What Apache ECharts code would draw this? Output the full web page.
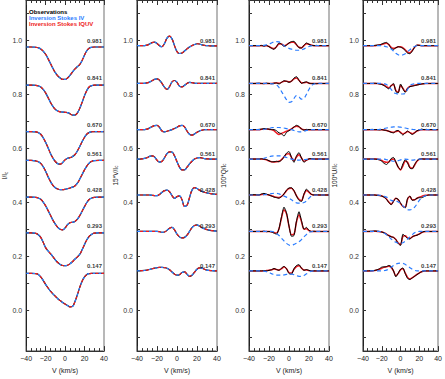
<!DOCTYPE html>
<html>
<head>
<meta charset="utf-8">
<script src="https://cdn.jsdelivr.net/npm/echarts@6/dist/echarts.min.js"></script>
<style>
html, body { margin: 0; padding: 0; background: #fff; }
#chart { width: 445px; height: 379px; }
</style>
</head>
<body>
<div id="chart"></div>
<script>
// velocity grid (km/s)
var velocity = [-40, -35, -30, -27.5, -25, -22.5, -20, -17.5, -15, -12.5, -10, -7.5, -5, -2.5, 0,
    2.5, 5, 7.5, 10, 12.5, 15, 17.5, 20, 22.5, 25, 27.5, 30, 35, 40];
var phases = ['0.981', '0.841', '0.670', '0.561', '0.428', '0.293', '0.147'];
var offsets = [0.981, 0.841, 0.670, 0.561, 0.428, 0.293, 0.147];
var yLabelTicks = [0.0, 0.2, 0.4, 0.6, 0.8, 1.0];
var yTicks = [-0.1, 0.0, 0.1, 0.2, 0.3, 0.4, 0.5, 0.6, 0.7, 0.8, 0.9, 1.0, 1.1];

// Stokes I (relative to offset)
var i0981 = [-0.005,-0.005,-0.006,-0.008,-0.012,-0.020,-0.032,-0.048,-0.066,-0.084,-0.100,-0.112,-0.120,-0.125,-0.125,-0.120,-0.110,-0.098,-0.087,-0.078,-0.070,-0.055,-0.035,-0.018,-0.009,-0.006,-0.005,-0.005,-0.005];
var i0841 = [-0.006,-0.006,-0.007,-0.009,-0.013,-0.022,-0.035,-0.052,-0.070,-0.085,-0.096,-0.102,-0.105,-0.106,-0.107,-0.108,-0.112,-0.117,-0.117,-0.110,-0.093,-0.070,-0.045,-0.025,-0.012,-0.008,-0.006,-0.006,-0.006];
var i0670 = [-0.007,-0.007,-0.008,-0.011,-0.017,-0.030,-0.047,-0.067,-0.088,-0.105,-0.118,-0.126,-0.128,-0.122,-0.112,-0.106,-0.104,-0.100,-0.093,-0.080,-0.063,-0.045,-0.028,-0.016,-0.010,-0.008,-0.007,-0.007,-0.007];
var i0561 = [-0.005,-0.005,-0.007,-0.010,-0.016,-0.028,-0.045,-0.065,-0.083,-0.097,-0.106,-0.111,-0.113,-0.113,-0.112,-0.110,-0.107,-0.104,-0.100,-0.090,-0.075,-0.057,-0.040,-0.025,-0.014,-0.008,-0.006,-0.005,-0.005];
var i0428 = [-0.008,-0.008,-0.009,-0.011,-0.016,-0.026,-0.040,-0.057,-0.075,-0.093,-0.108,-0.120,-0.127,-0.129,-0.122,-0.110,-0.103,-0.101,-0.098,-0.090,-0.077,-0.060,-0.043,-0.027,-0.016,-0.011,-0.009,-0.008,-0.008];
var i0293 = [-0.005,-0.005,-0.007,-0.012,-0.022,-0.040,-0.060,-0.072,-0.082,-0.093,-0.105,-0.115,-0.122,-0.126,-0.127,-0.125,-0.120,-0.112,-0.103,-0.095,-0.085,-0.068,-0.048,-0.030,-0.017,-0.010,-0.006,-0.005,-0.005];
var i0147 = [-0.009,-0.009,-0.010,-0.013,-0.022,-0.035,-0.050,-0.063,-0.075,-0.085,-0.094,-0.103,-0.110,-0.117,-0.123,-0.128,-0.133,-0.132,-0.115,-0.090,-0.062,-0.038,-0.022,-0.013,-0.010,-0.009,-0.009,-0.009,-0.009];

// 15*V/Ic
var v0981 = [0,0,0.002,0.006,0.011,0.013,0.008,0.000,-0.004,0.008,0.028,0.035,0.025,0.000,-0.022,-0.029,-0.027,-0.020,-0.012,-0.005,0.000,0.004,0.007,0.006,0.003,0.001,0,-0.001,-0.001];
var v0841 = [0,0,0.002,0.005,0.010,0.015,0.017,0.012,0.000,-0.014,-0.022,-0.012,0.006,0.011,0.004,-0.010,-0.013,-0.007,0.000,0.004,0.003,0.001,0,0,0,0,0,0,0];
var v0670 = [0,0,0.002,0.006,0.011,0.015,0.016,0.008,-0.005,-0.008,-0.006,-0.003,0.000,0.004,0.009,0.014,0.016,0.010,-0.005,-0.017,-0.020,-0.016,-0.010,-0.005,-0.002,0,0,0,0];
var v0561 = [0,0.001,0.005,0.010,0.012,0.008,-0.004,-0.011,-0.008,0.005,0.020,0.027,0.026,0.012,-0.010,-0.030,-0.040,-0.040,-0.030,-0.018,-0.008,0.000,0.004,0.005,0.004,0.002,0.001,0,0];
var v0428 = [0,0,0,0,-0.001,-0.002,-0.002,0.002,0.010,0.016,0.018,0.012,-0.002,-0.012,-0.006,-0.003,-0.018,-0.042,-0.038,-0.010,0.018,0.027,0.024,0.018,0.013,0.010,0.008,0.004,0.002];
var v0293 = [0,0,0,0,0,0,0,-0.001,-0.003,-0.002,0.004,0.012,0.015,0.006,-0.010,-0.020,-0.024,-0.022,-0.014,0.000,0.014,0.022,0.024,0.020,0.014,0.010,0.007,0.003,0.001];
var v0147 = [0,0.001,0.003,0.005,0.008,0.010,0.012,0.013,0.013,0.012,0.010,0.004,-0.004,-0.012,-0.016,-0.014,-0.006,-0.004,-0.012,-0.020,-0.016,-0.005,0.006,0.011,0.010,0.006,0.003,0.001,0];

// 100*Q/Ic : observations, IQUV inversion, IV inversion
var qObs0981 = [0,0,0,0.001,-0.002,0.001,-0.004,-0.010,-0.014,-0.003,0.010,0.006,-0.003,0.002,0.010,0.015,0.016,0.004,-0.008,-0.009,0.002,0.010,0.005,0.001,0,0.001,0,0,0];
var qFit0981 = [0,0,0,0,0,0,-0.003,-0.008,-0.011,-0.004,0.006,0.006,0.000,0.003,0.009,0.013,0.012,0.003,-0.006,-0.008,0.000,0.007,0.005,0.002,0,0,0,0,0];
var qIv0981 = [0,0,0,0,0.001,0.003,0.006,0.010,0.014,0.015,0.014,0.008,0.000,-0.006,-0.010,-0.013,-0.015,-0.017,-0.017,-0.016,-0.012,-0.007,-0.003,-0.001,0,0,0,0,0];
var qObs0841 = [0,0,0.001,0,-0.001,0.001,0,-0.001,0.001,0.002,-0.002,0.004,0.010,0.008,0.004,0.008,0.020,0.025,0.012,0.000,0.004,0.006,0.001,0,0,-0.001,0,0,0];
var qFit0841 = [0,0,0,0,0,0,0,0,0.001,0.002,0.001,0.004,0.008,0.008,0.006,0.009,0.017,0.020,0.012,0.003,0.003,0.004,0.001,0,0,0,0,0,0];
var qIv0841 = [0,0,0,0,0,0,0,-0.001,-0.002,-0.005,-0.015,-0.030,-0.045,-0.060,-0.070,-0.068,-0.055,-0.045,-0.050,-0.058,-0.055,-0.040,-0.022,-0.008,-0.002,0,0,0,0];
var qObs0670 = [0,0,0.001,0.002,0.004,0.003,0.002,0.000,0.000,-0.004,-0.012,-0.015,-0.024,-0.010,-0.004,0.002,0.010,0.016,0.012,0.002,-0.002,0.001,0,0,0,0,0,0,0];
var qFit0670 = [0,0,0,0.001,0.002,0.002,0.001,0.000,-0.004,-0.012,-0.018,-0.014,-0.010,-0.006,-0.002,0.003,0.009,0.013,0.010,0.003,0.000,0,0,0,0,0,0,0,0];
var qIv0670 = [0,0,0,0,0.001,0.003,0.005,0.007,0.008,0.008,0.008,0.007,0.006,0.004,0.002,0.000,-0.003,-0.006,-0.008,-0.008,-0.006,-0.003,-0.001,0,0,0,0,0,0];
var qObs0561 = [0,0,0,0.001,0,-0.002,-0.006,-0.010,-0.010,-0.008,-0.010,-0.004,0.008,0.022,0.028,0.006,-0.012,0.012,0.024,0.004,-0.012,-0.004,0.001,0.002,0,0,0,0,0];
var qFit0561 = [0,0,0,0,-0.001,-0.003,-0.007,-0.010,-0.011,-0.010,-0.008,-0.002,0.008,0.018,0.020,0.006,-0.006,0.008,0.016,0.004,-0.008,-0.004,0,0,0,0,0,0,0];
var qIv0561 = [0,0,0,0.001,0.003,0.006,0.009,0.011,0.012,0.012,0.012,0.011,0.009,0.006,0.003,0.000,-0.002,-0.004,-0.004,-0.003,-0.002,-0.001,0,0,0,0,0,0,0];
var qObs0428 = [0,0.001,0,0.004,0.006,0.003,0,-0.004,-0.008,-0.010,-0.012,-0.006,0.004,0.018,0.026,0.027,0.016,-0.004,-0.020,-0.024,0.004,0.022,0.012,0.002,0,0.001,0,0,0];
var qFit0428 = [0,0,0,0.002,0.003,0.002,0,-0.003,-0.006,-0.008,-0.009,-0.005,0.004,0.016,0.024,0.025,0.015,-0.003,-0.016,-0.020,0.002,0.017,0.010,0.002,0,0,0,0,0];
var qIv0428 = [0,0,0,0,0.001,0.002,0.004,0.005,0.006,0.006,0.004,0.000,-0.004,-0.008,-0.012,-0.018,-0.024,-0.029,-0.030,-0.030,-0.028,-0.022,-0.012,-0.004,-0.001,0,0,0,0];
var qObs0293 = [0,0,0,0,0.001,-0.001,0,-0.002,-0.006,-0.010,0.010,0.055,0.090,0.070,0.020,-0.018,-0.015,0.040,0.073,0.040,0.008,0.015,0.004,0.000,0.001,0,0,0,0];
var qFit0293 = [0,0,0,0,0,0,0,-0.001,-0.004,-0.006,0.010,0.050,0.080,0.065,0.020,-0.012,-0.010,0.035,0.062,0.036,0.008,0.010,0.003,0,0,0,0,0,0];
var qIv0293 = [0,0,0,0,0,0,0,0,-0.002,-0.008,-0.015,-0.025,-0.035,-0.044,-0.050,-0.052,-0.048,-0.044,-0.038,-0.030,-0.020,-0.011,-0.004,-0.001,0,0,0,0,0];
var qObs0147 = [0,0,0,0,0.001,0,0.002,0.004,0.009,0.005,0.002,0.010,0.017,0.008,-0.010,-0.012,0.008,0.020,0.023,0.010,0.002,0.005,0.002,0,0,0,0,0,0];
var qFit0147 = [0,0,0,0,0,0.001,0.002,0.004,0.007,0.005,0.003,0.008,0.014,0.008,-0.006,-0.008,0.006,0.016,0.019,0.010,0.003,0.003,0.001,0,0,0,0,0,0];
var qIv0147 = [0,0,0,0,-0.001,-0.003,-0.006,-0.010,-0.014,-0.016,-0.016,-0.016,-0.015,-0.013,-0.012,-0.012,-0.014,-0.017,-0.020,-0.020,-0.017,-0.011,-0.005,-0.001,0,0,0,0,0];

// 100*U/Ic : observations, IQUV inversion, IV inversion
var uObs0981 = [0,0,0,0.001,0.002,0.003,0.006,0.010,0.012,0.004,-0.010,-0.014,-0.008,-0.004,-0.006,-0.010,-0.018,-0.028,-0.030,-0.020,-0.006,0.002,0.001,0,0,0,0,0,0];
var uFit0981 = [0,0,0,0,0.001,0.002,0.004,0.007,0.009,0.004,-0.006,-0.010,-0.008,-0.004,-0.004,-0.008,-0.015,-0.024,-0.026,-0.018,-0.006,0.001,0.001,0,0,0,0,0,0];
var uIv0981 = [0,0,0,0,0,0,0,-0.002,-0.004,-0.008,-0.012,-0.020,-0.028,-0.034,-0.036,-0.034,-0.030,-0.022,-0.015,-0.008,-0.003,0,0,0,0,0,0,0,0];
var uObs0841 = [0,0,0,0.001,0,-0.002,-0.004,-0.008,-0.015,-0.020,-0.008,0.000,-0.030,-0.035,-0.002,-0.020,-0.033,-0.018,-0.012,-0.010,-0.008,-0.006,-0.004,-0.002,-0.001,0,0,0,0];
var uFit0841 = [0,0,0,0,0,-0.001,-0.003,-0.006,-0.012,-0.016,-0.008,-0.004,-0.026,-0.032,-0.008,-0.018,-0.030,-0.018,-0.011,-0.009,-0.007,-0.005,-0.003,-0.002,-0.001,0,0,0,0];
var uIv0841 = [0,0,0,0,0,0,0,-0.001,-0.004,-0.012,-0.022,-0.033,-0.037,-0.039,-0.039,-0.039,-0.036,-0.022,-0.008,-0.003,-0.001,0,0,0,0,0,0,0,0];
var uObs0670 = [0,0,0.001,0,0,-0.001,0,-0.002,-0.003,-0.006,-0.010,-0.012,-0.005,-0.003,-0.012,-0.020,-0.012,-0.005,-0.012,-0.018,-0.012,-0.004,-0.001,0.002,0,0.001,0,0,0];
var uFit0670 = [0,0,0,0,0,0,0,-0.001,-0.003,-0.006,-0.009,-0.010,-0.007,-0.005,-0.010,-0.016,-0.012,-0.007,-0.011,-0.015,-0.011,-0.005,-0.002,0,0,0,0,0,0];
var uIv0670 = [0,0,0,0,0,0.001,0.002,0.004,0.006,0.008,0.009,0.010,0.010,0.010,0.009,0.008,0.006,0.004,0.002,0.001,0,0,0,0,0,0,0,0,0];
var uObs0561 = [0,0,0,0,-0.001,-0.003,-0.008,-0.016,-0.020,-0.012,0.002,0.006,-0.010,-0.030,-0.039,-0.018,-0.002,-0.015,-0.034,-0.036,-0.020,-0.006,0.000,0.001,0,0,0,0,0];
var uFit0561 = [0,0,0,0,0,-0.002,-0.005,-0.010,-0.012,-0.010,-0.002,0.000,-0.012,-0.030,-0.040,-0.025,-0.008,-0.012,-0.030,-0.034,-0.022,-0.008,-0.001,0,0,0,0,0,0];
var uIv0561 = [0,0,0,0,0,0,0,0,-0.002,-0.004,-0.006,-0.008,-0.008,-0.006,-0.003,-0.001,0.000,-0.001,-0.003,-0.004,-0.003,-0.001,0,0,0,0,0,0,0];
var uObs0428 = [0,0,0,0,-0.001,-0.002,-0.004,-0.008,-0.016,-0.028,-0.036,-0.024,-0.012,-0.016,-0.030,-0.042,-0.048,-0.012,-0.004,-0.020,-0.018,-0.012,-0.010,-0.010,-0.006,-0.002,0,0,0];
var uFit0428 = [0,0,0,0,-0.001,-0.002,-0.004,-0.008,-0.015,-0.026,-0.034,-0.022,-0.012,-0.018,-0.032,-0.042,-0.045,-0.016,-0.006,-0.018,-0.018,-0.012,-0.008,-0.005,-0.002,-0.001,0,0,0];
var uIv0428 = [0,0,0,0,0,-0.001,-0.002,-0.005,-0.008,-0.014,-0.020,-0.022,-0.022,-0.026,-0.030,-0.040,-0.048,-0.054,-0.055,-0.052,-0.045,-0.033,-0.020,-0.010,-0.005,-0.002,0,0,0];
var uObs0293 = [0,0,0.001,0.002,0.001,0,-0.002,-0.005,-0.010,-0.016,-0.020,-0.022,-0.030,-0.045,-0.052,-0.010,-0.018,-0.026,-0.028,-0.020,-0.016,-0.014,-0.010,-0.004,0,0,0,0,0];
var uFit0293 = [0,0,0,0.001,0,-0.001,-0.002,-0.005,-0.010,-0.015,-0.019,-0.022,-0.030,-0.042,-0.048,-0.018,-0.016,-0.024,-0.026,-0.020,-0.016,-0.013,-0.009,-0.004,-0.001,0,0,0,0];
var uIv0293 = [0,0,0,0,0,0,-0.002,-0.006,-0.012,-0.020,-0.028,-0.035,-0.040,-0.043,-0.044,-0.042,-0.036,-0.028,-0.020,-0.012,-0.005,-0.001,0,0,0,0,0,0,0];
var uObs0147 = [0,0,0.001,0.002,0.004,0.008,0.014,0.015,0.016,0.020,0.016,0.000,-0.022,-0.008,0.006,0.011,-0.010,-0.028,-0.032,-0.026,-0.020,-0.014,-0.008,-0.003,0,0,0,0,0];
var uFit0147 = [0,0,0,0.001,0.003,0.006,0.010,0.013,0.015,0.017,0.013,0.000,-0.018,-0.010,0.004,0.008,-0.008,-0.024,-0.030,-0.025,-0.019,-0.013,-0.007,-0.003,0,0,0,0,0];
var uIv0147 = [0,0,0,0,0,0,0,0.001,0.003,0.008,0.014,0.020,0.025,0.028,0.029,0.028,0.024,0.018,0.012,0.006,0.002,0,0,0,0,0,0,0,0];

var BLACK = '#000000', BLUE = '#2a7cff', RED = '#ee1c24';
var FONT = 'Liberation Sans';

var panels = [
    { name: '{a|I/I}{b|c}', gap: 11, left: 24, kind: 'iv',
      obs: [i0981, i0841, i0670, i0561, i0428, i0293, i0147] },
    { name: '{a|15*V/I}{b|c}', gap: 18, left: 137, kind: 'iv',
      obs: [v0981, v0841, v0670, v0561, v0428, v0293, v0147] },
    { name: '{a|100*Q/I}{b|c}', gap: 22, left: 249, kind: 'qu',
      obs: [qObs0981, qObs0841, qObs0670, qObs0561, qObs0428, qObs0293, qObs0147],
      iquv: [qFit0981, qFit0841, qFit0670, qFit0561, qFit0428, qFit0293, qFit0147],
      ivFit: [qIv0981, qIv0841, qIv0670, qIv0561, qIv0428, qIv0293, qIv0147] },
    { name: '{a|100*U/I}{b|c}', gap: 25, left: 363, kind: 'qu',
      obs: [uObs0981, uObs0841, uObs0670, uObs0561, uObs0428, uObs0293, uObs0147],
      iquv: [uFit0981, uFit0841, uFit0670, uFit0561, uFit0428, uFit0293, uFit0147],
      ivFit: [uIv0981, uIv0841, uIv0670, uIv0561, uIv0428, uIv0293, uIv0147] }
];

function toXY(arr, off) {
    return velocity.map(function (v, j) { return [v, +(off + arr[j]).toFixed(4)]; });
}

function lineSeries(p, name, data, style, z, smooth) {
    return {
        type: 'line', name: name, xAxisIndex: p * 2, yAxisIndex: p * 2,
        data: data, symbol: 'none', smooth: smooth, silent: true,
        lineStyle: style, z: z
    };
}

var grids = [], xAxes = [], yAxes = [], series = [];

panels.forEach(function (pan, p) {
    // grid border gives the frame; the right side is overdrawn in gray below
    grids.push({ left: pan.left, width: 80, top: 0, height: 358,
        show: true, borderColor: '#222', borderWidth: 1, backgroundColor: 'transparent' });
    xAxes.push({
        gridIndex: p, type: 'value', min: -40, max: 40, interval: 20, position: 'bottom',
        name: 'V (km/s)', nameLocation: 'middle', nameGap: 12,
        nameTextStyle: { fontSize: 7, color: '#222', fontFamily: FONT },
        axisLine: { onZero: false, lineStyle: { color: '#333', width: 1 } },
        axisTick: { inside: true, length: 5, lineStyle: { color: '#333' } },
        minorTick: { show: true, splitNumber: 4, length: 3, lineStyle: { color: '#333' } },
        axisLabel: { fontSize: 7, color: '#222', margin: 4, fontFamily: FONT,
            formatter: function (v) { return v < 0 ? '\u2212' + (-v) : String(v); } },
        splitLine: { show: false }
    });
    xAxes.push({
        gridIndex: p, type: 'value', min: -40, max: 40, interval: 20, position: 'top',
        axisLine: { onZero: false, lineStyle: { color: '#333', width: 1 } },
        axisTick: { inside: true, length: 5, lineStyle: { color: '#333' } },
        minorTick: { show: true, splitNumber: 4, length: 3, lineStyle: { color: '#333' } },
        axisLabel: { show: false }, splitLine: { show: false }
    });
    yAxes.push({
        gridIndex: p, type: 'value', min: -0.15, max: 1.15, position: 'left',
        name: pan.name, nameLocation: 'middle', nameGap: pan.gap,
        nameTextStyle: { color: '#222', fontFamily: FONT,
            rich: { a: { fontSize: 6.5, fontFamily: FONT, color: '#222' },
                    b: { fontSize: 4.5, fontFamily: FONT, color: '#222', padding: [3, 0, 0, 0] } } },
        axisLine: { show: true, onZero: false, lineStyle: { color: '#222', width: 1 } },
        axisTick: { show: true, inside: true, length: 3, customValues: yTicks, lineStyle: { color: '#333' } },
        axisLabel: { fontSize: 7, color: '#333', margin: 4, fontFamily: FONT, customValues: yLabelTicks,
            formatter: function (v) { return v.toFixed(1); } },
        splitLine: { show: false }
    });
    yAxes.push({
        gridIndex: p, type: 'value', min: -0.15, max: 1.15, position: 'right',
        axisLine: { show: true, onZero: false, lineStyle: { color: '#b8b8b8', width: 2 } },
        axisTick: { show: false }, axisLabel: { show: false }, splitLine: { show: false }
    });

    offsets.forEach(function (off, k) {
        if (pan.kind === 'iv') {
            var d = toXY(pan.obs[k], off);
            series.push(lineSeries(p, 'Observations', d, { color: BLACK, width: 1.2 }, 2, 0.4));
            series.push(lineSeries(p, 'Inversion Stokes IV', d, { color: BLUE, width: 1.2, type: [3, 3] }, 3, 0.4));
            series.push(lineSeries(p, 'Inversion Stokes IQUV', d, { color: RED, width: 1.2, type: [3, 3], dashOffset: 3 }, 4, 0.4));
        } else {
            series.push(lineSeries(p, 'Inversion Stokes IQUV', toXY(pan.iquv[k], off), { color: RED, width: 1.5 }, 2, 0.3));
            series.push(lineSeries(p, 'Observations', toXY(pan.obs[k], off), { color: BLACK, width: 1 }, 3, 0.2));
            series.push(lineSeries(p, 'Inversion Stokes IV', toXY(pan.ivFit[k], off), { color: BLUE, width: 1.2, type: [4, 3] }, 4, 0.4));
        }
    });

    series.push({
        type: 'scatter', xAxisIndex: p * 2, yAxisIndex: p * 2, symbolSize: 0, silent: true, z: 6,
        data: offsets.map(function (off) { return [40, off]; }),
        label: { show: true, position: 'left', distance: 2, offset: [0, -5],
            fontSize: 6, fontWeight: 'bold', color: '#000', fontFamily: FONT,
            formatter: function (prm) { return phases[prm.dataIndex]; } }
    });
});

var chart = echarts.init(document.getElementById('chart'), null, { renderer: 'svg' });
chart.setOption({
    animation: false,
    backgroundColor: '#fff',
    grid: grids,
    xAxis: xAxes,
    yAxis: yAxes,
    series: series,
    graphic: [
        { type: 'text', left: 29, top: 9, style: { text: 'Observations', fill: BLACK, font: 'bold 6px "Liberation Sans"' } },
        { type: 'text', left: 29, top: 15, style: { text: 'Inversion Stokes IV', fill: BLUE, font: 'bold 6px "Liberation Sans"' } },
        { type: 'text', left: 29, top: 21, style: { text: 'Inversion Stokes IQUV', fill: RED, font: 'bold 6px "Liberation Sans"' } }
    ]
});
</script>
</body>
</html>
